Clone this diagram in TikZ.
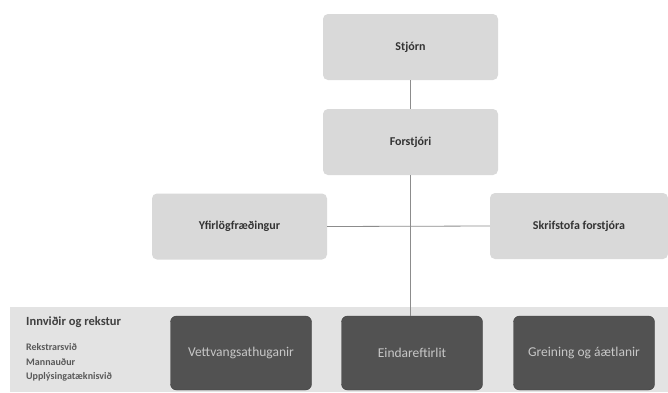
\documentclass[tikz,border=0pt]{standalone}
\usepackage{fontspec}
\setmainfont{Carlito}
\begin{document}
\begin{tikzpicture}[x=1pt,y=-1pt,
  lightbox/.style={fill=black!15,draw=none,rounded corners=5pt,minimum width=175pt,minimum height=66pt,inner sep=0pt,font=\fontsize{12}{13}\selectfont\bfseries,text=black!80},
  darkbox/.style={fill=black!68,draw=black!75,rounded corners=6pt,minimum width=141pt,minimum height=74pt,inner sep=0pt,font=\fontsize{13.5}{14}\selectfont,text=black!22},
  conn/.style={draw=black!45,line width=0.8pt},
  small/.style={anchor=west,font=\fontsize{10}{11}\selectfont\bfseries,text=black!65,inner sep=0pt}]
\useasboundingbox (0,0) rectangle (668,392);
\fill[white] (0,0) rectangle (668,392);
% bottom band
\fill[black!11] (10,307) rectangle (668,392);
\node[lightbox] (stjorn) at (410.5,47) {Stjórn};
\node[lightbox] (forstjori) at (410.5,142) {Forstjóri};
\node[lightbox] (yfir) at (239.5,226.5) {Yfirlögfræðingur};
\node[lightbox,minimum width=178pt] (skrif) at (579,226) {Skrifstofa forstjóra};
\node[darkbox] (vett) at (241,353) {Vettvangsathuganir};
\node[darkbox] (eind) at (412,353) {Eindareftirlit};
\node[darkbox] (grein) at (584,353) {Greining og áætlanir};
\draw[conn] (stjorn) -- (forstjori);
\draw[conn] (forstjori.south) -- (forstjori.south |- eind.north);
\draw[conn] (yfir.east) -- (skrif.west);
\node[anchor=west,font=\fontsize{12.5}{13}\selectfont\bfseries,text=black!75,inner sep=0pt] (inn) at (26,322) {Innviðir og rekstur};
\node[small] (rek) at (26,347) {Rekstrarsvið};
\node[small] (mann) at (26,362) {Mannauður};
\node[small] (upp) at (26,377) {Upplýsingatæknisvið};
\end{tikzpicture}
\end{document}
